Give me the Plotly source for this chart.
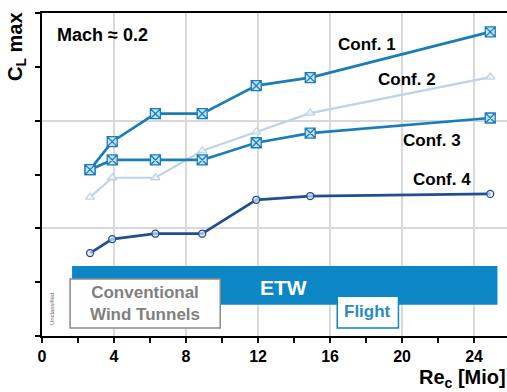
import plotly.graph_objects as go

# Data (Re_c in Mio, C_L max in relative axis units)
re = [2.67, 3.9, 6.3, 8.9, 11.9, 14.9, 24.9]
conf1 = [3.09, 3.61, 4.13, 4.13, 4.65, 4.80, 5.65]
conf2 = [2.58, 2.94, 2.94, 3.44, 3.79, 4.14, 4.81]
conf3 = [3.09, 3.27, 3.27, 3.27, 3.59, 3.77, 4.05]
conf4 = [1.54, 1.80, 1.90, 1.90, 2.53, 2.60, 2.64]
x_ticks = [0, 4, 8, 12, 16, 20, 24]

FONT = "Arial, Liberation Sans, sans-serif"
C13 = "#1b7db8"
C2 = "#bdd3e7"
C4 = "#214f8d"
ETW = "#0d86c5"

fig = go.Figure()

def add(y, color, symbol, size, mfill, width):
    fig.add_trace(go.Scatter(
        x=re, y=y, mode="lines+markers",
        line=dict(color=color, width=width),
        marker=dict(symbol=symbol, size=size, color=mfill,
                    line=dict(color=color, width=1.3)),
        showlegend=False, cliponaxis=False))

add(conf2, C2, "triangle-up", 8, "rgba(255,255,255,0.6)", 2.2)
add(conf4, C4, "circle", 7, "rgba(220,230,245,0.7)", 2.7)
add(conf3, C13, "square-x", 10, "#c6e3f4", 2.7)
add(conf1, C13, "square-x", 10, "#c6e3f4", 2.7)

shapes = [
    dict(type="rect", xref="x", yref="y", x0=1.67, x1=25.3, y0=0.58, y1=1.30,
         fillcolor=ETW, line=dict(width=0), layer="above"),
    dict(type="rect", xref="x", yref="y", x0=1.56, x1=9.9, y0=0.15, y1=1.06,
         fillcolor="white", line=dict(color="#8a8a8a", width=1.5), layer="above"),
    dict(type="rect", xref="x", yref="y", x0=16.4, x1=19.8, y0=0.15, y1=0.74,
         fillcolor="white", line=dict(color=ETW, width=1.5), layer="above"),
]

ann = []
def txt(x, y, s, size, color="black", xanchor="center", xref="x", yref="y", angle=0):
    ann.append(dict(x=x, y=y, xref=xref, yref=yref, text=s, showarrow=False,
                    xanchor=xanchor, yanchor="middle", textangle=angle,
                    font=dict(family=FONT, size=size, color=color)))

txt(0.72, 5.59, "<b>Mach ≈ 0.2</b>", 18, xanchor="left")
txt(18.08, 5.41, "<b>Conf. 1</b>", 17)
txt(20.28, 4.76, "<b>Conf. 2</b>", 17)
txt(21.69, 3.64, "<b>Conf. 3</b>", 17)
txt(22.22, 2.90, "<b>Conf. 4</b>", 17)
txt(13.44, 0.91, "<b>ETW</b>", 21, color="white")
txt(5.72, 0.595, "<b>Conventional<br>Wind Tunnels</b>", 17, color="#808080")
txt(18.1, 0.446, "<b>Flight</b>", 17, color="#2b8bc3")
txt(0.55, 0.5, "Unclassified", 6, color="#666666", angle=-90)

fig.update_layout(
    width=507, height=392,
    margin=dict(l=42, r=0, t=13, b=56),
    paper_bgcolor="white", plot_bgcolor="white",
    shapes=shapes, annotations=ann,
    font=dict(family=FONT, color="black"),
    xaxis=dict(range=[0, 25.83], tickvals=x_ticks,
               ticktext=[f"<b>{v}</b>" for v in x_ticks],
               tickfont=dict(size=16, family=FONT, color="black"),
               showgrid=True, gridcolor="#d9d9d9", gridwidth=1.5,
               showline=True, linecolor="black", linewidth=2, mirror=True,
               ticks="outside", ticklen=5, tickwidth=1.5, tickcolor="black",
               minor=dict(dtick=2, tick0=0, ticks="outside", ticklen=5,
                          tickwidth=1.5, tickcolor="black", showgrid=False),
               zeroline=False, fixedrange=True),
    yaxis=dict(range=[0, 6], tickvals=[0, 2, 4, 6], showticklabels=False,
               showgrid=True, gridcolor="#d9d9d9", gridwidth=1.5,
               showline=True, linecolor="black", linewidth=2,
               ticks="outside", ticklen=5, tickwidth=1.5, tickcolor="black",
               minor=dict(tickvals=[1, 3, 5], ticks="outside", ticklen=5,
                          tickwidth=1.5, tickcolor="black", showgrid=False),
               zeroline=False, fixedrange=True),
)

# axis titles (positioned in paper coordinates from pixel estimates)
fig.add_annotation(x=(16 - 42) / 465, y=(392 - 56 - 47) / 323, xref="paper", yref="paper",
                   text="<b>C<sub>L</sub> max</b>", showarrow=False, textangle=-90,
                   xanchor="center", yanchor="middle",
                   font=dict(family=FONT, size=20, color="black"))
fig.add_annotation(x=(462 - 42) / 465, y=(336 - 378) / 323, xref="paper", yref="paper",
                   text="<b>Re<sub>c</sub> [Mio]</b>", showarrow=False,
                   xanchor="center", yanchor="middle",
                   font=dict(family=FONT, size=20, color="black"))

fig.write_html("out.html")
